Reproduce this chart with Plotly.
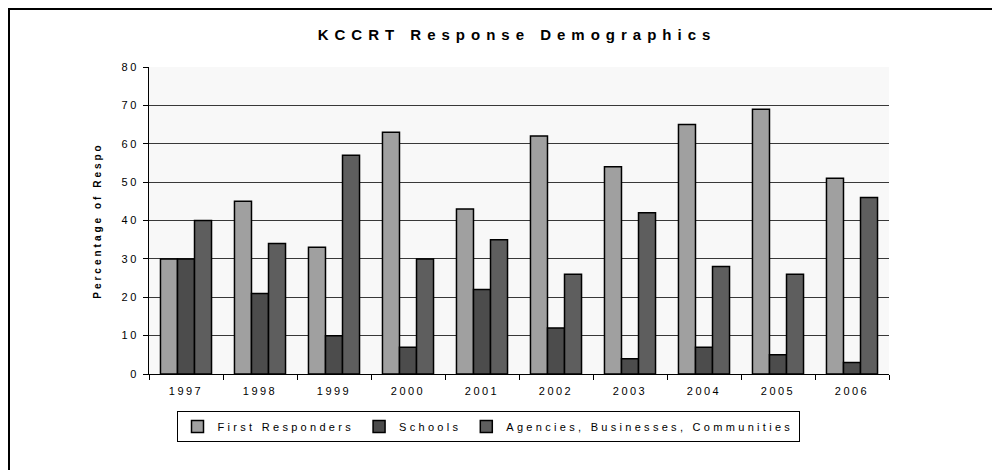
import plotly.graph_objects as go

years = ["1997", "1998", "1999", "2000", "2001", "2002", "2003", "2004", "2005", "2006"]
first_responders = [30, 45, 33, 63, 43, 62, 54, 65, 69, 51]
schools = [30, 21, 10, 7, 22, 12, 4, 7, 5, 3]
agencies = [40, 34, 57, 30, 35, 26, 42, 28, 26, 46]
series_names = ["First Responders", "Schools", "Agencies, Businesses, Communities"]
colors = ["#A0A0A0", "#4C4C4C", "#5E5E5E"]
y_ticks = [0, 10, 20, 30, 40, 50, 60, 70, 80]

FONT = "Liberation Sans, Arial, sans-serif"


def spaced(text, ls):
    return f"<span style='letter-spacing:{ls}px'>{text}</span>"


fig = go.Figure()
for name, vals, col in zip(series_names, [first_responders, schools, agencies], colors):
    fig.add_trace(go.Bar(
        x=years, y=vals, name=spaced(name, 3.3),
        marker=dict(color=col, line=dict(color="#000000", width=1.5)),
    ))

W, H = 992, 470
L, R, T, B = 149, 889, 67, 374


def px_x(px):
    return (px - L) / (R - L)


def px_y(py):
    return (B - py) / (B - T)


fig.update_layout(
    width=W, height=H,
    margin=dict(l=L, r=W - R, t=T, b=H - B, pad=0),
    paper_bgcolor="#FFFFFF",
    plot_bgcolor="#F8F8F8",
    barmode="group",
    bargap=0.31,
    bargroupgap=0,
    font=dict(family=FONT, size=11, color="#000000"),
    title=dict(
        text="<b>" + spaced("KCCRT Response Demographics", 6) + "</b>",
        font=dict(family=FONT, size=15, color="#000000"),
        x=517 / W, xanchor="center", xref="container",
        y=1 - 35 / H, yanchor="middle", yref="container",
    ),
    showlegend=True,
    legend=dict(
        orientation="h",
        x=px_x(488), xanchor="center",
        y=px_y(411), yanchor="top",
        bgcolor="#FFFFFF", bordercolor="#000000", borderwidth=1,
        font=dict(family=FONT, size=11, color="#000000"),
        traceorder="normal",
    ),
    xaxis=dict(
        type="category",
        tickmode="array", tickvals=years, ticktext=[spaced(y, 2.5) for y in years],
        tickfont=dict(family=FONT, size=11, color="#000000"),
        showline=True, linecolor="#000000", linewidth=1,
        ticks="outside", tickson="boundaries", ticklen=5, tickcolor="#000000",
        ticklabelstandoff=7,
        showgrid=False, zeroline=False,
    ),
    yaxis=dict(
        range=[0, 80],
        tickmode="array", tickvals=y_ticks, ticktext=[spaced(str(v), 2.5) for v in y_ticks],
        tickfont=dict(family=FONT, size=11, color="#000000"),
        showline=True, linecolor="#000000", linewidth=1,
        ticks="outside", ticklen=5, tickcolor="#000000",
        ticklabelstandoff=2,
        showgrid=True, gridcolor="#383838", gridwidth=1,
        zeroline=False,
        title=dict(text="<b>" + spaced("Percentage of Respo", 3) + "</b>",
                   font=dict(family=FONT, size=10, color="#000000"), standoff=18),
    ),
    shapes=[dict(type="rect", xref="paper", yref="paper",
                 x0=px_x(9), x1=px_x(1005), y0=px_y(9), y1=px_y(490),
                 line=dict(color="#000000", width=2), fillcolor="rgba(0,0,0,0)", layer="above")],
)

fig.write_html("out.html", config={"displayModeBar": False},
               post_script="document.body.style.margin='0';")
